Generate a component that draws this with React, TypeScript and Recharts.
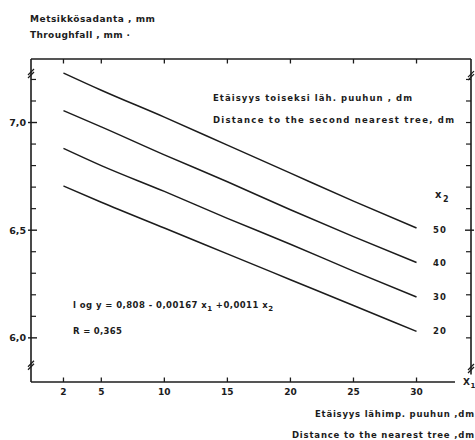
import React from 'react';
import { LineChart, Line, XAxis, YAxis, ReferenceLine, ReferenceDot } from 'recharts';

// x1: distance to the nearest tree (dm)
const xValues = [2, 5, 10, 15, 20, 25, 30];
// throughfall (mm) for x2 = distance to the second nearest tree (dm)
const series50 = [7.23, 7.15, 7.025, 6.895, 6.765, 6.635, 6.51];
const series40 = [7.055, 6.98, 6.85, 6.725, 6.595, 6.47, 6.35];
const series30 = [6.88, 6.8, 6.68, 6.555, 6.435, 6.31, 6.19];
const series20 = [6.705, 6.63, 6.51, 6.39, 6.27, 6.15, 6.03];
const seriesLabels = ['50', '40', '30', '20'];

const xTicks = [2, 5, 10, 15, 20, 25, 30];
const yTicks = [6.0, 6.1, 6.2, 6.3, 6.4, 6.5, 6.6, 6.7, 6.8, 6.9, 7.0, 7.1, 7.2];
const yMajor = [6.0, 6.5, 7.0];

const X_MIN = -0.575;
const X_MAX = 34.32;
const Y_MIN = 5.795;
const Y_MAX = 7.295;

const data = xValues.map((x, i) => ({
  x,
  s50: series50[i],
  s40: series40[i],
  s30: series30[i],
  s20: series20[i],
}));

const INK = '#1c1c1c';
const FONT = '"DejaVu Sans", sans-serif';

const fmt = (v: number) => v.toFixed(1).replace('.', ',');
const isMajor = (v: number) => yMajor.some((m) => Math.abs(m - v) < 1e-6);

const BottomTick = (props: any) => {
  const { x, y, payload } = props;
  return (
    <g>
      <line x1={x} x2={x} y1={y - 4.5} y2={y} stroke={INK} strokeWidth={1.3} />
      <text x={x} y={y + 12.5} textAnchor="middle" fontFamily={FONT} fontWeight={700} fontSize={9} fill={INK}>
        {payload.value}
      </text>
    </g>
  );
};

const TopTick = (props: any) => {
  const { x, y } = props;
  return <line x1={x} x2={x} y1={y} y2={y + 4.5} stroke={INK} strokeWidth={1.3} />;
};

const LeftTick = (props: any) => {
  const { x, y, payload } = props;
  const v = payload.value as number;
  if (isMajor(v)) {
    return (
      <g>
        <line x1={x - 3} x2={x + 6} y1={y} y2={y} stroke={INK} strokeWidth={1.4} />
        <text x={x - 5} y={y + 3.5} textAnchor="end" fontFamily={FONT} fontWeight={700} fontSize={9.5} fill={INK}>
          {fmt(v)}
        </text>
      </g>
    );
  }
  return <line x1={x} x2={x + 5} y1={y} y2={y} stroke={INK} strokeWidth={1.2} />;
};

const RightTick = (props: any) => {
  const { x, y, payload } = props;
  const v = payload.value as number;
  if (Math.abs(v - 6.5) < 1e-6) {
    return <line x1={x - 6} x2={x + 3} y1={y} y2={y} stroke={INK} strokeWidth={1.4} />;
  }
  return <line x1={x - 5} x2={x} y1={y} y2={y} stroke={INK} strokeWidth={1.2} />;
};

const BreakMark = (props: any) => {
  const { cx, cy } = props;
  return (
    <g>
      <line x1={cx - 3} y1={cy + 2} x2={cx + 3} y2={cy - 4} stroke={INK} strokeWidth={1.2} />
      <line x1={cx - 3} y1={cy + 5} x2={cx + 3} y2={cy - 1} stroke={INK} strokeWidth={1.2} />
    </g>
  );
};

const txt = {
  fontFamily: FONT,
  fontWeight: 700,
  fill: INK,
} as const;

export default function App() {
  return (
    <div style={{ position: 'absolute', left: 0, top: 0, width: 475, height: 440, background: '#fff' }}>
      <LineChart
        width={475}
        height={440}
        data={data}
        margin={{ top: 58, right: 3, bottom: 57, left: 30 }}
      >
        <XAxis
          xAxisId="b"
          dataKey="x"
          type="number"
          domain={[X_MIN, X_MAX]}
          allowDataOverflow
          ticks={xTicks}
          interval={0}
          height={1}
          tickSize={0}
          tickMargin={0}
          axisLine={false}
          tickLine={false}
          tick={<BottomTick />}
        />
        <XAxis
          xAxisId="t"
          orientation="top"
          dataKey="x"
          type="number"
          domain={[X_MIN, X_MAX]}
          allowDataOverflow
          ticks={xTicks}
          interval={0}
          height={1}
          tickSize={0}
          tickMargin={0}
          axisLine={{ stroke: INK, strokeWidth: 1.6 }}
          tickLine={false}
          tick={<TopTick />}
        />
        <YAxis
          yAxisId="l"
          type="number"
          domain={[Y_MIN, Y_MAX]}
          allowDataOverflow
          ticks={yTicks}
          interval={0}
          width={1}
          tickSize={0}
          tickMargin={0}
          axisLine={{ stroke: INK, strokeWidth: 1.6 }}
          tickLine={false}
          tick={<LeftTick />}
        />
        <YAxis
          yAxisId="r"
          orientation="right"
          type="number"
          domain={[Y_MIN, Y_MAX]}
          allowDataOverflow
          ticks={yTicks}
          interval={0}
          width={1}
          tickSize={0}
          tickMargin={0}
          axisLine={false}
          tickLine={false}
          tick={<RightTick />}
        />
        <ReferenceLine
          xAxisId="b"
          yAxisId="l"
          ifOverflow="visible"
          segment={[{ x: X_MIN, y: Y_MIN }, { x: 33.05, y: Y_MIN }]}
          stroke={INK}
          strokeWidth={1.6}
        />
        <ReferenceLine
          xAxisId="b"
          yAxisId="l"
          ifOverflow="visible"
          segment={[{ x: X_MAX, y: 5.83 }, { x: X_MAX, y: Y_MAX }]}
          stroke={INK}
          strokeWidth={1.6}
        />
        <ReferenceDot xAxisId="b" yAxisId="l" x={X_MIN} y={7.23} r={1} ifOverflow="visible" shape={BreakMark} />
        <ReferenceDot xAxisId="b" yAxisId="l" x={X_MIN} y={5.875} r={1} ifOverflow="visible" shape={BreakMark} />
        <ReferenceDot xAxisId="b" yAxisId="l" x={X_MAX} y={7.22} r={1} ifOverflow="visible" shape={BreakMark} />
        <ReferenceDot xAxisId="b" yAxisId="l" x={X_MAX} y={5.86} r={1} ifOverflow="visible" shape={BreakMark} />
        <Line xAxisId="b" yAxisId="l" dataKey="s50" type="monotone" stroke={INK} strokeWidth={1.5} dot={false} isAnimationActive={false} />
        <Line xAxisId="b" yAxisId="l" dataKey="s40" type="monotone" stroke={INK} strokeWidth={1.5} dot={false} isAnimationActive={false} />
        <Line xAxisId="b" yAxisId="l" dataKey="s30" type="monotone" stroke={INK} strokeWidth={1.5} dot={false} isAnimationActive={false} />
        <Line xAxisId="b" yAxisId="l" dataKey="s20" type="monotone" stroke={INK} strokeWidth={1.5} dot={false} isAnimationActive={false} />
      </LineChart>
      <svg
        width={475}
        height={440}
        style={{ position: 'absolute', left: 0, top: 0, pointerEvents: 'none' }}
      >
        <text x={30} y={21.5} fontSize={9} textLength={125} lengthAdjust="spacing" {...txt}>
          Metsikkösadanta , mm
        </text>
        <text x={30} y={38} fontSize={9} textLength={100} lengthAdjust="spacing" {...txt}>
          Throughfall , mm ·
        </text>
        <text x={213} y={100.5} fontSize={8.5} textLength={199} lengthAdjust="spacing" {...txt}>
          Etäisyys toiseksi läh. puuhun , dm
        </text>
        <text x={213} y={122.5} fontSize={8.5} textLength={241} lengthAdjust="spacing" {...txt}>
          Distance to the second nearest tree, dm
        </text>
        <text x={435} y={198} fontSize={10} {...txt}>x</text>
        <text x={443} y={202} fontSize={8} {...txt}>2</text>
        {seriesLabels.map((s, i) => (
          <text key={s} x={433} y={[233, 266, 300, 334][i]} fontSize={8.5} textLength={13} lengthAdjust="spacing" {...txt}>
            {s}
          </text>
        ))}
        <text x={73} y={307.5} fontSize={8.5} textLength={200} lengthAdjust="spacing" {...txt}>
          l og  y = 0,808 - 0,00167 x<tspan dy={3} fontSize={7}>1</tspan>
          <tspan dy={-3}> +0,0011 x</tspan>
          <tspan dy={3} fontSize={7}>2</tspan>
        </text>
        <text x={73} y={334} fontSize={8.5} textLength={49} lengthAdjust="spacing" {...txt}>
          R = 0,365
        </text>
        <text x={463} y={384.5} fontSize={9} {...txt}>X</text>
        <text x={470.5} y={388} fontSize={7} {...txt}>1</text>
        <text x={315} y={416.5} fontSize={8.5} textLength={159} lengthAdjust="spacing" {...txt}>
          Etäisyys lähimp. puuhun ,dm
        </text>
        <text x={292} y={438} fontSize={8.5} textLength={182} lengthAdjust="spacing" {...txt}>
          Distance to the nearest tree ,dm
        </text>
      </svg>
    </div>
  );
}
